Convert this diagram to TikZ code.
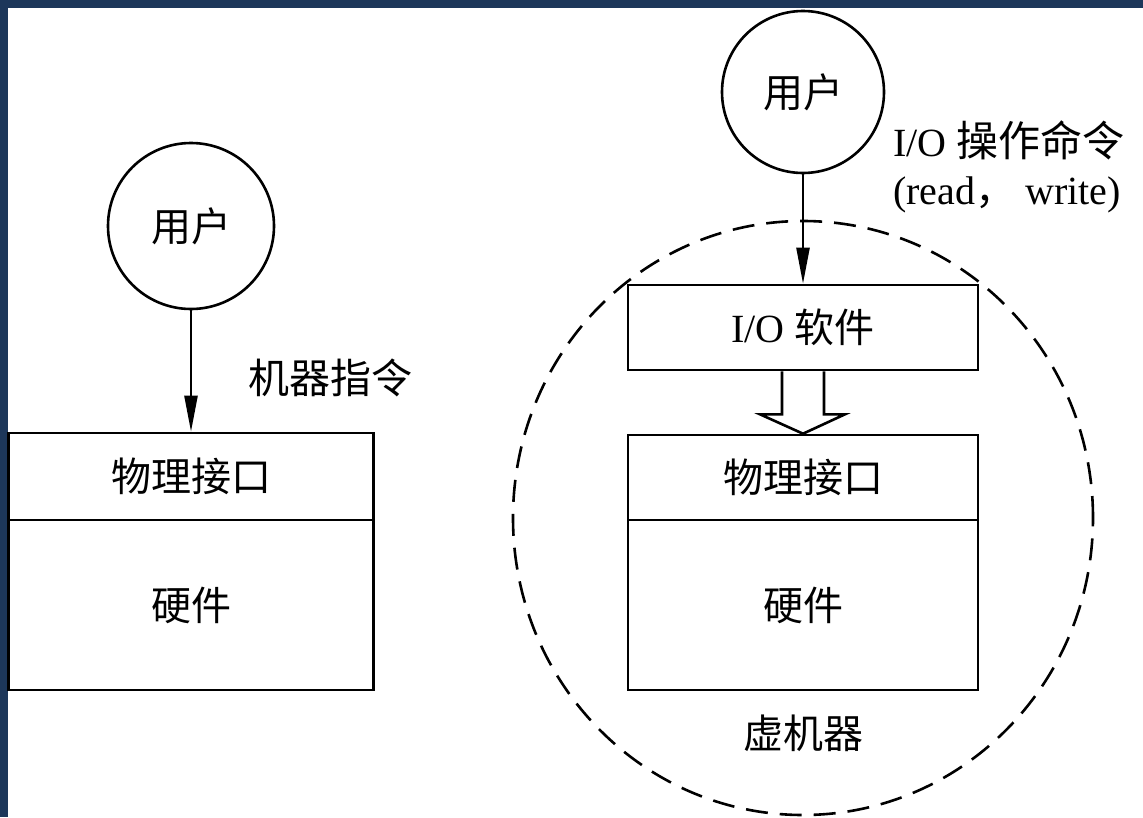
\documentclass[tikz,border=0pt]{standalone}
\usepackage{fontspec}
\setmainfont{Liberation Serif}
\newfontfamily\cjk{Noto Sans CJK SC}
\usetikzlibrary{arrows.meta,calc}
\definecolor{navy}{RGB}{29,55,90}
\begin{document}
\begin{tikzpicture}[x=1pt,y=-1pt,
  txt/.style={font=\fontsize{40}{48}\selectfont, inner sep=0pt},
  usr/.style={circle, draw, line width=2.6pt, inner sep=0pt, font=\fontsize{40}{48}\selectfont\cjk},
  blk/.style={rectangle, draw, line width=2.6pt, inner sep=0pt, minimum width=350pt, font=\fontsize{40}{48}\selectfont\cjk},
  conn/.style={line width=2.4pt, -{Triangle[length=36pt,width=13pt]}},
  hollow/.style={line width=2.6pt, fill=white, line join=miter},
  vmline/.style={line width=2.6pt, dash pattern=on 22pt off 12pt}
]
\fill[navy] (0,0) rectangle (1143,817);
\fill[white] (8,8) rectangle (1143,817);
\useasboundingbox (0,0) rectangle (1143,817);

% left part
\node[usr, minimum size=166pt] (u1) at (191,226) {用户};
\node[blk, minimum width=365pt, minimum height=87pt] (p1) at (191,476.5) {物理接口};
\node[blk, minimum width=365pt, minimum height=170pt] (h1) at (191,605) {硬件};
\draw[conn] (u1.south) -- (p1.north);
\node[txt, font=\fontsize{41}{48}\selectfont\cjk] (mi) at (330,378) {机器指令};

% right part
\draw[vmline] (803,518) ellipse [x radius=290pt, y radius=297pt];
\node[usr, minimum size=162pt] (u2) at (803,92) {用户};
\node[blk, minimum height=85pt] (io) at (803,327.5) {\rmfamily I/O {\cjk 软件}};
\node[blk, minimum height=85pt] (p2) at (803,477.5) {物理接口};
\node[blk, minimum height=170pt] (h2) at (803,605) {硬件};
\draw[conn] (u2.south) -- (io.north);
\draw[hollow] ($(io.south)+(-21,0)$) -- ($(io.south)+(-21,43)$) -- ($(io.south)+(-43,43)$)
  -- (p2.north) -- ($(io.south)+(42,43)$) -- ($(io.south)+(21,43)$) -- ($(io.south)+(21,0)$);
\node[txt, font=\fontsize{40}{48}\selectfont\cjk] (vm) at (803,733) {虚机器};
\node[txt, anchor=west] (cmd1) at (893,140) {I/O {\cjk\fontsize{42}{48}\selectfont 操作命令}};
\node[txt, anchor=west] (cmd2) at (893,195) {(read{\cjk ，} write)};
\end{tikzpicture}
\end{document}
